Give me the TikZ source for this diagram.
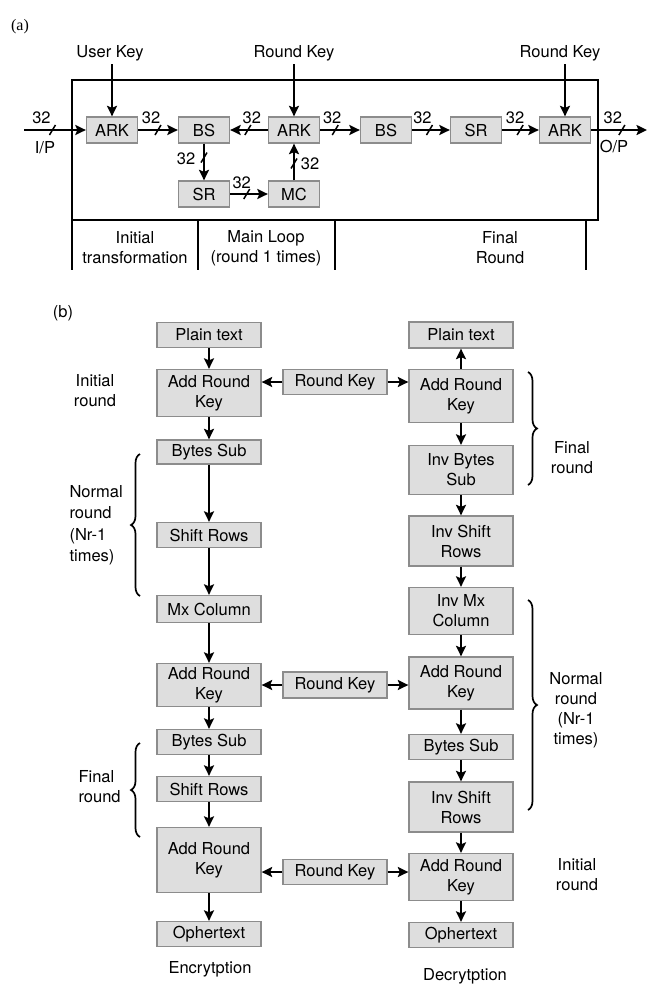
\documentclass[tikz,border=0pt]{standalone}
\usepackage{fontspec}
\setmainfont{TeX Gyre Heros}
\newfontfamily\tagfont{Liberation Serif}
\usepackage{tikz}
\usetikzlibrary{arrows.meta, positioning, decorations.pathreplacing}

\begin{document}
\begin{tikzpicture}[x=1pt, y=-1pt, >={Stealth[length=10.5pt, width=10pt, inset=2pt]},
    every node/.style={font=\fontsize{16.5}{20}\selectfont},
    blk/.style={draw=black!45, fill=black!13, line width=1.3pt, inner sep=0pt,
      minimum width=104pt, align=center},
    sblk/.style={blk, minimum width=51pt, minimum height=26pt},
    arr/.style={->, line width=2.2pt},
    tick/.style={line width=1.5pt},
    brc/.style={decorate, decoration={brace, amplitude=9pt}, line width=1.7pt}]
  \useasboundingbox (0,0) rectangle (657,1002);

  % (a) block view
  \node[font=\tagfont\fontsize{16}{19}\selectfont] (taga) at (20,27) {(a)};
  \draw[line width=2.2pt] (72,80) rectangle (598,220);
  \draw[line width=2.2pt] (72,220) -- (72,270);
  \draw[line width=2.2pt] (198,220) -- (198,270);
  \draw[line width=2.2pt] (335,220) -- (335,270);
  \draw[line width=2.2pt] (586,220) -- (586,270);
  \node[align=center] (stage1) at (135,248) {Initial\\transformation};
  \node[align=center] (stage2) at (266,248) {Main Loop\\(round 1 times)};
  \node[align=center] (stage3) at (500,248) {Final\\Round};

  \node[sblk] (ark1) at (112,130) {ARK};
  \node[sblk] (bs1) at (204,130) {BS};
  \node[sblk] (ark2) at (294,130) {ARK};
  \node[sblk] (bs2) at (386,130) {BS};
  \node[sblk] (sr2) at (476,130) {SR};
  \node[sblk] (ark3) at (565,130) {ARK};
  \node[sblk] (sr1) at (204,194) {SR};
  \node[sblk] (mc) at (294,194) {MC};

  \node (ukey) at (110,53) {User Key};
  \node (rkey1) at (294,53) {Round Key};
  \node (rkey2) at (560,53) {Round Key};
  \draw[arr] (ukey.south -| ark1) -- (ark1);
  \draw[arr] (rkey1) -- (ark2);
  \draw[arr] (rkey2.south -| ark3) -- (ark3);

  \coordinate (ip) at (24,130);
  \coordinate (op) at (647,130);
  \node (iplbl) at (45,148) {I/P};
  \node (oplbl) at (614,146) {O/P};

  \draw[arr] (ip) -- coordinate[pos=.46] (t0) (ark1);
  \draw[arr] (ark1) -- coordinate[pos=.5] (t1) (bs1);
  \draw[arr] (ark2) -- coordinate[pos=.53] (t2) (bs1);
  \draw[arr] (ark2) -- coordinate[pos=.38] (t3) (bs2);
  \draw[arr] (bs2) -- coordinate[pos=.46] (t4) (sr2);
  \draw[arr] (sr2) -- coordinate[pos=.49] (t5) (ark3);
  \draw[arr] (ark3) -- coordinate[pos=.55] (t6) (op);
  \draw[arr] (bs1) -- coordinate[pos=.38] (t7) (sr1);
  \draw[arr] (sr1) -- coordinate[pos=.44] (t8) (mc);
  \draw[arr] (mc) -- coordinate[pos=.46] (t9) (ark2);
  \foreach \t in {t0,t1,t2,t3,t4,t5,t6,t7,t8,t9}
    \draw[tick] (\t) ++(-3,5) -- ++(6,-10);
  \node (w0) at ([shift={(-11,-12)}]t0) {32};
  \node (w1) at ([shift={(-7,-12)}]t1) {32};
  \node (w2) at ([shift={(4,-12)}]t2) {32};
  \node (w3) at ([shift={(-3,-12)}]t3) {32};
  \node (w4) at ([shift={(-7,-12)}]t4) {32};
  \node (w5) at ([shift={(-5,-12)}]t5) {32};
  \node (w6) at ([shift={(-9,-12)}]t6) {32};
  \node (w7) at ([shift={(-18,1)}]t7) {32};
  \node (w8) at ([shift={(-5,-11)}]t8) {32};
  \node (w9) at ([shift={(16,0)}]t9) {32};

  % (b) flow of rounds
  \node (tagb) at (63,313) {(b)};

  % encryption column
  \node[blk, minimum height=25pt] (plain1) at (209,335) {Plain text};
  \node[blk, minimum height=47pt] (add1) at (209,393) {Add Round\\Key};
  \node[blk, minimum height=24pt] (sub1) at (209,452) {Bytes Sub};
  \node[blk, minimum height=25pt] (shift1) at (209,535) {Shift Rows};
  \node[blk, minimum height=27pt] (mix1) at (209,609) {Mx Column};
  \node[blk, minimum height=43pt] (add2) at (209,685) {Add Round\\Key};
  \node[blk, minimum height=25pt] (sub2) at (209,742) {Bytes Sub};
  \node[blk, minimum height=25pt] (shift2) at (209,789) {Shift Rows};
  \node[blk, minimum height=65pt] (add3) at (209,860) {Add Round\\Key};
  \node[blk, minimum height=25pt] (ciph1) at (209,934) {Ophertext};
  \node (enc) at (210,969) {Encrytption};

  % decryption column
  \node[blk, minimum height=26pt] (plain2) at (461,335) {Plain text};
  \node[blk, minimum height=53pt] (add4) at (461,396) {Add Round\\Key};
  \node[blk, minimum height=49pt] (isub1) at (461,470) {Inv Bytes\\Sub};
  \node[blk, minimum height=50pt] (ishift1) at (461,541) {Inv Shift\\Rows};
  \node[blk, minimum height=47pt] (imix) at (461,611) {Inv Mx\\Column};
  \node[blk, minimum height=52pt] (add5) at (461,683) {Add Round\\Key};
  \node[blk, minimum height=25pt] (sub3) at (461,747) {Bytes Sub};
  \node[blk, minimum height=50pt] (ishift2) at (461,807) {Inv Shift\\Rows};
  \node[blk, minimum height=47pt] (add6) at (461,877) {Add Round\\Key};
  \node[blk, minimum height=25pt] (ciph2) at (461,935) {Ophertext};
  \node (dec) at (465,976) {Decrytption};

  % round keys between the columns
  \node[blk, minimum height=25pt] (key1) at (335,382) {Round Key};
  \node[blk, minimum height=26pt] (key2) at (335,685) {Round Key};
  \node[blk, minimum height=25pt] (key3) at (335,872) {Round Key};

  \draw[arr] (plain1) -- (add1);
  \draw[arr] (add1) -- (sub1);
  \draw[arr] (sub1) -- (shift1);
  \draw[arr] (shift1) -- (mix1);
  \draw[arr] (mix1) -- (add2);
  \draw[arr] (add2) -- (sub2);
  \draw[arr] (sub2) -- (shift2);
  \draw[arr] (shift2) -- (add3);
  \draw[arr] (add3) -- (ciph1);

  \draw[arr] (add4) -- (plain2);
  \draw[arr] (add4) -- (isub1);
  \draw[arr] (isub1) -- (ishift1);
  \draw[arr] (ishift1) -- (imix);
  \draw[arr] (imix) -- (add5);
  \draw[arr] (add5) -- (sub3);
  \draw[arr] (sub3) -- (ishift2);
  \draw[arr] (ishift2) -- (add6);
  \draw[arr] (add6) -- (ciph2);

  \draw[arr] (key1.west) -- (key1.west -| add1.east);
  \draw[arr] (key1.east) -- (key1.east -| add4.west);
  \draw[arr] (key2.west) -- (key2.west -| add2.east);
  \draw[arr] (key2.east) -- (key2.east -| add5.west);
  \draw[arr] (key3.west) -- (key3.west -| add3.east);
  \draw[arr] (key3.east) -- (key3.east -| add6.west);

  % braces and round names
  \draw[brc] (140,596) -- (140,454);
  \draw[brc] (140,837) -- (140,743);
  \draw[brc] (528,372) -- (528,485);
  \draw[brc] (528,600) -- (528,810);
  \node[align=center] (init1) at (95,391) {Initial\\round};
  \node[anchor=west, align=left, font=\fontsize{16.5}{21.5}\selectfont] (norm1) at (66,525) {Normal\\round\\(Nr-1\\times)};
  \node[anchor=west, align=left] (fin1) at (75,787) {Final\\round};
  \node[align=center] (fin2) at (572,458) {Final\\round};
  \node[align=center] (norm2) at (576,710) {Normal\\round\\(Nr-1\\times)};
  \node[align=center] (init2) at (577,875) {Initial\\round};
\end{tikzpicture}
\end{document}
